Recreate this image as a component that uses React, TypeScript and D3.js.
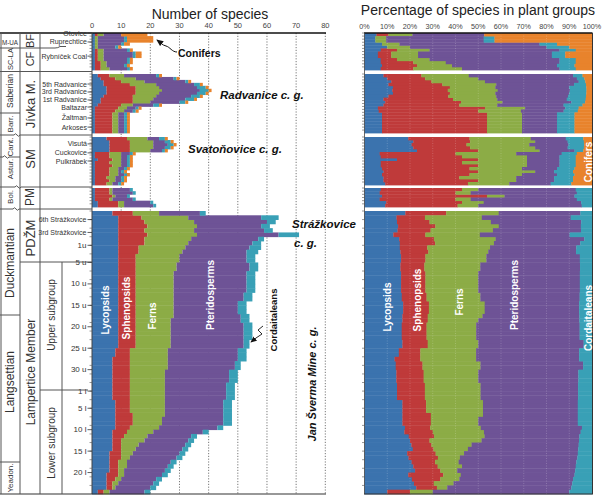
import React from 'react';
import * as d3 from 'd3';

// ---------- DATA ----------
const groups = ['Lycopsids', 'Sphenopsids', 'Ferns', 'Pteridosperms', 'Cordaitaleans', 'Conifers'];

// each row: [Lycopsids, Sphenopsids, Ferns, Pteridosperms, Cordaitaleans, Conifers]
const bfCfRows: number[][] = [
  [1, 1, 2, 6, 0, 9],
  [1, 0, 1, 9, 1, 9],
  [1, 0, 1, 9, 1, 9],
  [1, 0, 1, 8, 1, 2],
  [1, 0, 1, 6, 1, 1],
  [1, 1, 2, 8, 1, 1],
  [1, 1, 2, 10, 1, 2],
  [1, 1, 2, 10, 1, 2],
  [1, 1, 2, 8, 1, 1],
  [1, 2, 2, 7, 1, 1],
  [1, 2, 2, 6, 1, 1],
  [1, 2, 3, 6, 1, 1],
];

const jivkaRows: number[][] = [
  [2, 4, 5, 11, 1, 1],
  [3, 5, 7, 13, 1, 1],
  [4, 6, 8, 14, 1, 1],
  [4, 9, 9, 13, 2, 1],
  [5, 10, 8, 13, 3, 1],
  [5, 10, 9, 13, 3, 1],
  [5, 10, 8, 13, 3, 1],
  [4, 10, 8, 12, 3, 1],
  [3, 11, 7, 11, 3, 1],
  [3, 11, 6, 10, 2, 1],
  [2, 8, 4, 7, 2, 1],
  [1, 8, 3, 3, 1, 1],
  [1, 7, 3, 3, 1, 1],
  [1, 6, 2, 2, 1, 1],
  [1, 6, 2, 2, 1, 1],
  [1, 6, 2, 2, 1, 1],
  [1, 6, 2, 2, 1, 1],
  [1, 6, 2, 2, 1, 1],
  [1, 6, 2, 2, 1, 1],
  [1, 6, 2, 2, 1, 1],
];

const smRows: number[][] = [
  [5, 7, 7, 4, 2, 1],
  [6, 7, 8, 4, 2, 1],
  [6, 7, 8, 5, 2, 1],
  [6, 7, 8, 4, 2, 1],
  [6, 7, 7, 4, 1, 1],
  [1, 5, 4, 3, 1, 1],
  [1, 5, 4, 2, 1, 1],
  [2, 5, 3, 2, 1, 1],
  [1, 5, 4, 2, 1, 1],
  [1, 6, 3, 2, 1, 1],
  [1, 5, 3, 2, 1, 1],
  [1, 5, 3, 1, 1, 1],
  [1, 5, 3, 2, 1, 1],
  [1, 4, 3, 2, 1, 1],
  [1, 5, 2, 2, 1, 1],
  [1, 4, 2, 2, 1, 1],
];

const pmRows: number[][] = [
  [1, 5, 1, 6, 1, 0],
  [1, 5, 1, 7, 1, 0],
  [1, 6, 1, 4, 1, 0],
  [1, 5, 1, 7, 1, 0],
  [2, 7, 2, 9, 1, 0],
  [2, 7, 2, 10, 1, 0],
];

const mainRows: number[][] = [
  [7, 7, 9, 14, 2, 0],
  [9, 8, 16, 25, 6, 0],
  [9, 9, 17, 25, 3, 0],
  [9, 10, 17, 22, 3, 0],
  [9, 9, 17, 24, 3, 0],
  [9, 10, 17, 28, 7, 0],
  [9, 9, 16, 23, 2, 0],
  [9, 9, 15, 22, 3, 0],
  [9, 7, 16, 22, 4, 0],
  [9, 7, 15, 22, 4, 0],
  [9, 6, 15, 23, 3, 0],
  [9, 6, 15, 23, 3, 0],
  [9, 6, 14, 25, 3, 0],
  [9, 6, 14, 25, 3, 0],
  [9, 6, 13, 25, 3, 0],
  [9, 6, 13, 25, 3, 0],
  [9, 6, 13, 25, 3, 0],
  [9, 6, 13, 25, 3, 0],
  [9, 6, 13, 25, 3, 0],
  [9, 6, 13, 24, 3, 0],
  [9, 6, 13, 24, 3, 0],
  [9, 6, 13, 22, 3, 0],
  [9, 6, 13, 22, 3, 0],
  [9, 6, 13, 22, 3, 0],
  [9, 6, 13, 23, 3, 0],
  [9, 6, 12, 24, 3, 0],
  [9, 6, 12, 25, 3, 0],
  [9, 6, 12, 25, 3, 0],
  [9, 6, 12, 25, 3, 0],
  [9, 6, 12, 25, 3, 0],
  [9, 6, 12, 25, 2, 0],
  [9, 6, 12, 25, 2, 0],
  [8, 5, 13, 24, 3, 0],
  [8, 5, 13, 24, 3, 0],
  [7, 6, 13, 24, 3, 0],
  [7, 6, 13, 23, 2, 0],
  [7, 6, 13, 23, 2, 0],
  [7, 6, 12, 22, 3, 0],
  [7, 6, 12, 22, 3, 0],
  [7, 6, 12, 22, 3, 0],
  [7, 6, 12, 21, 3, 0],
  [7, 6, 12, 21, 3, 0],
  [7, 6, 12, 21, 3, 0],
  [7, 6, 12, 21, 3, 0],
  [8, 5, 12, 20, 3, 0],
  [8, 5, 12, 20, 3, 0],
  [8, 5, 12, 20, 3, 0],
  [8, 6, 11, 20, 3, 0],
  [8, 6, 10, 21, 3, 0],
  [8, 6, 10, 21, 3, 0],
  [8, 5, 10, 20, 2, 0],
  [7, 5, 9, 17, 2, 0],
  [7, 4, 8, 15, 2, 0],
  [7, 3, 8, 15, 2, 0],
  [7, 3, 6, 16, 2, 0],
  [7, 3, 5, 16, 2, 0],
  [6, 4, 4, 16, 2, 0],
  [6, 4, 3, 16, 2, 0],
  [6, 3, 3, 15, 2, 0],
  [6, 3, 3, 14, 2, 0],
  [6, 3, 2, 14, 2, 0],
  [5, 4, 2, 13, 2, 0],
  [5, 3, 2, 12, 2, 0],
  [5, 2, 2, 12, 2, 0],
  [5, 2, 1, 12, 2, 0],
  [2, 2, 2, 12, 2, 0],
];

const countTicks = [0, 10, 20, 30, 40, 50, 60, 70, 80];
const pctTicks = [0, 10, 20, 30, 40, 50, 60, 70, 80, 90, 100];

// seam / level labels with their row position inside each section
const bfCfLabels = [
  { label: 'Otovice', row: 0 },
  { label: 'Ruprechtice', row: 2.9 },
  { label: 'Rybníček Coal', row: 7.5 },
];
const jivkaLabels = [
  { label: '5th Radvanice', row: 3.4 },
  { label: '3rd Radvanice', row: 6.1 },
  { label: '1st Radvanice', row: 8.8 },
  { label: 'Baltazar', row: 11.2 },
  { label: 'Žaltman', row: 14.9 },
  { label: 'Arkoses', row: 18 },
];
const smLabels = [
  { label: 'Visutá', row: 2.3 },
  { label: 'Cuckovice', row: 5.3 },
  { label: 'Pulkrábek', row: 8 },
];
const mainLabels = [
  { label: '6th Strážkovice', row: 2 },
  { label: '3rd Strážkovice', row: 5 },
  { label: '1u', row: 8 },
  { label: '5 u', row: 12 },
  { label: '10 u', row: 17 },
  { label: '15 u', row: 22 },
  { label: '20 u', row: 27 },
  { label: '25 u', row: 32 },
  { label: '30 u', row: 37 },
  { label: '1 l', row: 42 },
  { label: '5 l', row: 46 },
  { label: '10 l', row: 51 },
  { label: '15 l', row: 56 },
  { label: '20 l', row: 61 },
];

// ---------- STYLE / LAYOUT ----------
const colors = ['#3b73ae', '#bf3a3a', '#8cac46', '#6e5396', '#39a0b6', '#e8832c'];
const FONT = 'Liberation Sans, Arial, Helvetica, sans-serif';
const W = 605;
const H = 504;
const TOP = 33;
const BOTTOM = 494;

const sectionLayout = [
  { top: 33, bottom: 70 },
  { top: 74, bottom: 133 },
  { top: 137, bottom: 185 },
  { top: 188, bottom: 207 },
  { top: 211, bottom: 494 },
];

const xCount = d3.scaleLinear().domain([0, 80]).range([92, 325.3]);
const xPct = d3.scaleLinear().domain([0, 1]).range([364.5, 592]);

function VText(props: { x: number; y: number; children: React.ReactNode; size: number; fill?: string; weight?: string | number; italic?: boolean }) {
  const { x, y, children, size, fill = '#333', weight = 'normal', italic = false } = props;
  return (
    <text
      transform={`translate(${x},${y}) rotate(-90)`}
      textAnchor="middle"
      dominantBaseline="central"
      fontSize={size}
      fill={fill}
      fontWeight={weight}
      fontStyle={italic ? 'italic' : 'normal'}
      fontFamily={FONT}
    >
      {children}
    </text>
  );
}

export default function App() {
  const sectionData = [
    { rows: bfCfRows, labels: bfCfLabels },
    { rows: jivkaRows, labels: jivkaLabels },
    { rows: smRows, labels: smLabels },
    { rows: pmRows, labels: [] as { label: string; row: number }[] },
    { rows: mainRows, labels: mainLabels },
  ].map((s, i) => {
    const data = s.rows.map((r) => {
      const o: Record<string, number> = {};
      groups.forEach((g, gi) => (o[g] = r[gi]));
      return o;
    });
    const y = d3.scaleLinear().domain([0, s.rows.length]).range([sectionLayout[i].top, sectionLayout[i].bottom]);
    const stackCount = d3.stack<Record<string, number>>().keys(groups)(data);
    const stackPct = d3.stack<Record<string, number>>().keys(groups).offset(d3.stackOffsetExpand)(data);
    return { ...s, y, stackCount, stackPct, isMain: i === 4 };
  });

  const lineColor = '#555';

  return (
    <svg width={W} height={H} style={{ position: 'absolute', left: 0, top: 0, background: '#fff' }} fontFamily={FONT}>
      <defs>
        <marker id="ah" viewBox="0 0 8 8" refX="7" refY="4" markerWidth="7" markerHeight="7" orient="auto">
          <path d="M0,0.5 L8,4 L0,7.5 z" fill="#111" />
        </marker>
      </defs>

      {/* titles */}
      <text x={210} y={18.5} textAnchor="middle" fontSize={14} fill="#222">Number of species</text>
      <text x={478} y={15} textAnchor="middle" fontSize={14} fill="#222">Percentage of species in plant groups</text>

      {/* left gridlines */}
      {countTicks.slice(1).map((t) => (
        <line key={'g' + t} x1={xCount(t)} x2={xCount(t)} y1={TOP} y2={BOTTOM} stroke="#555" strokeWidth={0.8} strokeDasharray="1.2,1.6" />
      ))}

      {/* left stacked bars */}
      {sectionData.map((s, si) => (
        <g key={'lc' + si}>
          {s.stackCount.map((series, gi) =>
            series.map((d, j) =>
              d[1] - d[0] > 0 ? (
                <rect
                  key={gi + '-' + j}
                  x={xCount(d[0])}
                  width={xCount(d[1]) - xCount(d[0])}
                  y={s.y(j)}
                  height={s.y(j + 1) - s.y(j) + 0.4}
                  fill={colors[gi]}
                />
              ) : null
            )
          )}
        </g>
      ))}

      {/* right stacked percentage bars */}
      {sectionData.map((s, si) => (
        <g key={'rc' + si}>
          {s.stackPct.map((series, gi) =>
            series.map((d, j) =>
              d[1] - d[0] > 0 ? (
                <rect
                  key={gi + '-' + j}
                  x={xPct(d[0])}
                  width={xPct(d[1]) - xPct(d[0]) + 0.3}
                  y={s.y(j)}
                  height={s.y(j + 1) - s.y(j) + 0.4}
                  fill={colors[gi]}
                />
              ) : null
            )
          )}
        </g>
      ))}

      {/* right faint gridlines */}
      {pctTicks.slice(1, -1).map((t) => (
        <line key={'pg' + t} x1={xPct(t / 100)} x2={xPct(t / 100)} y1={TOP} y2={BOTTOM} stroke="#ffffff" strokeOpacity={0.25} strokeWidth={0.8} strokeDasharray="1,1.5" />
      ))}

      {/* top axes */}
      <line x1={0} x2={326} y1={TOP} y2={TOP} stroke="#111" strokeWidth={1.5} />
      {countTicks.map((t) => (
        <text key={'ct' + t} x={xCount(t)} y={28} textAnchor="middle" fontSize={7.5} fill="#444">{t}</text>
      ))}
      <line x1={364} x2={592.5} y1={TOP} y2={TOP} stroke="#111" strokeWidth={1.5} />
      {pctTicks.map((t) => (
        <text key={'pt' + t} x={xPct(t / 100)} y={28.5} textAnchor="middle" fontSize={7.2} fill="#444">{t + '%'}</text>
      ))}

      {/* y axes */}
      <line x1={92} x2={92} y1={TOP} y2={BOTTOM} stroke="#444" strokeWidth={1} />
      <line x1={364.5} x2={364.5} y1={TOP} y2={BOTTOM} stroke="#444" strokeWidth={0.8} />
      <line x1={592.5} x2={592.5} y1={TOP} y2={BOTTOM} stroke="#333" strokeWidth={1} />
      <line x1={364} x2={593} y1={BOTTOM} y2={BOTTOM} stroke="#333" strokeWidth={1.2} />
      <line x1={0} x2={326} y1={BOTTOM} y2={BOTTOM} stroke="#333" strokeWidth={1.2} />
      {sectionData.map((s, si) =>
        d3.range(0, s.rows.length, s.isMain ? 2 : 1).map((j) => (
          <g key={'tk' + si + '-' + j}>
            <line x1={89.5} x2={92} y1={s.y(j)} y2={s.y(j)} stroke="#555" strokeWidth={0.6} />
            <line x1={362} x2={364.5} y1={s.y(j)} y2={s.y(j)} stroke="#555" strokeWidth={0.6} />
          </g>
        ))
      )}

      {/* seam / level labels */}
      {sectionData.map((s, si) =>
        s.labels.map((l) => (
          <g key={'lb' + si + l.label}>
            <line x1={87.5} x2={92} y1={s.y(l.row)} y2={s.y(l.row)} stroke="#333" strokeWidth={0.8} />
            <text x={s.isMain ? 86.5 : 87} y={s.y(l.row)} textAnchor="end" dominantBaseline="central" fontSize={s.isMain && l.label.length < 6 ? 8 : 7} fill="#333">
              {l.label}
            </text>
          </g>
        ))
      )}

      {/* stratigraphic column lines */}
      <g stroke={lineColor} strokeWidth={1} fill="none">
        <line x1={1} x2={1} y1={TOP} y2={BOTTOM} />
        <line x1={20} x2={20} y1={TOP} y2={BOTTOM} />
        <line x1={40} x2={40} y1={TOP} y2={BOTTOM} />
        <line x1={62} x2={62} y1={262} y2={BOTTOM} />
        <path d="M0,48 L55,48 Q58,48 60,46.5 L66,46.5" />
        <line x1={0} x2={92} y1={71.5} y2={71.5} />
        <line x1={0} x2={20} y1={113} y2={113} />
        <path d="M0,135 L14,135 q1.5,-2.5 3,0 t3,0 L92,135" />
        <path d="M0,157 L3,157 q1.5,-2.5 3,0 t3,0 L20,157" />
        <path d="M0,187 L15,187 q1.5,-2.5 3,0 t3,0 L92,187" />
        <path d="M0,209 L13,209 q1.5,-2.5 3,0 t3,0 L92,209" />
        <line x1={20} x2={92} y1={262} y2={262} />
        <line x1={0} x2={20} y1={315} y2={315} />
        <line x1={40} x2={88} y1={390} y2={390} />
        <line x1={0} x2={20} y1={462} y2={462} />
      </g>

      {/* stratigraphic column texts */}
      <text x={10} y={42} textAnchor="middle" dominantBaseline="central" fontSize={6.3} fill="#333">M-UA</text>
      <VText x={10} y={59} size={7.5}>SC-LA</VText>
      <VText x={30} y={41} size={11}>BF</VText>
      <VText x={30} y={59} size={11}>CF</VText>
      <VText x={10} y={91} size={8.5}>Saberian</VText>
      <VText x={10} y={124} size={8}>Barr.</VText>
      <VText x={30} y={104} size={13}>Jívka M.</VText>
      <VText x={10} y={147} size={8}>Cant.</VText>
      <VText x={10} y={169} size={8}>Astur.</VText>
      <VText x={30} y={159} size={13}>SM</VText>
      <VText x={10} y={197} size={8}>Bol.</VText>
      <VText x={30} y={197} size={12}>PM</VText>
      <VText x={10} y={263} size={12}>Duckmantian</VText>
      <VText x={10} y={382} size={12}>Langsettian</VText>
      <VText x={10} y={478} size={8}>Yeadon.</VText>
      <VText x={30} y={238} size={13}>PDŽM</VText>
      <VText x={30.5} y={372} size={12}>Lampertice Member</VText>
      <VText x={51} y={315} size={10}>Upper subgroup</VText>
      <VText x={51} y={443} size={10}>Lower subgroup</VText>

      {/* left chart group labels */}
      <VText x={105} y={310} size={10} fill="#fff" weight="bold">Lycopsids</VText>
      <VText x={126} y={308} size={10} fill="#fff" weight="bold">Sphenopsids</VText>
      <VText x={152} y={316} size={10} fill="#fff" weight="bold">Ferns</VText>
      <VText x={210} y={295} size={10} fill="#fff" weight="bold">Pteridosperms</VText>
      <VText x={273} y={320} size={9.5} fill="#111" weight="bold">Cordaitaleans</VText>

      {/* right chart group labels */}
      <VText x={387} y={307} size={10} fill="#fff" weight="bold">Lycopsids</VText>
      <VText x={417} y={300} size={10} fill="#fff" weight="bold">Sphenopsids</VText>
      <VText x={459} y={302} size={10} fill="#fff" weight="bold">Ferns</VText>
      <VText x={514} y={295} size={10} fill="#fff" weight="bold">Pteridosperms</VText>
      <VText x={588} y={318} size={10} fill="#fff" weight="bold">Cordaitaleans</VText>
      <VText x={588} y={162} size={10} fill="#fff" weight="bold">Conifers</VText>

      {/* annotations */}
      <text x={178} y={56.5} fontSize={10.5} fontWeight="bold" fill="#111">Conifers</text>
      <path d="M177,52 C172,52 170,47 166,46 C162,45 161,43 157,40" fill="none" stroke="#111" strokeWidth={1} markerEnd="url(#ah)" />
      <text x={220} y={99} fontSize={11.5} fontWeight="bold" fontStyle="italic" fill="#111">Radvanice c. g.</text>
      <text x={188} y={153} fontSize={11.5} fontWeight="bold" fontStyle="italic" fill="#111">Svatoňovice c. g.</text>
      <text x={292} y={228} fontSize={11.5} fontWeight="bold" fontStyle="italic" fill="#111">Strážkovice</text>
      <text x={294} y={247} fontSize={11.5} fontWeight="bold" fontStyle="italic" fill="#111">c. g.</text>
      <VText x={312} y={384} size={11} fill="#111" weight="bold" italic>{'Jan Šverma Mine  c. g.'}</VText>
      <path d="M263,326 L258,330 L262,334 L256,338 L251,342" fill="none" stroke="#111" strokeWidth={0.9} markerEnd="url(#ah)" />
    </svg>
  );
}
